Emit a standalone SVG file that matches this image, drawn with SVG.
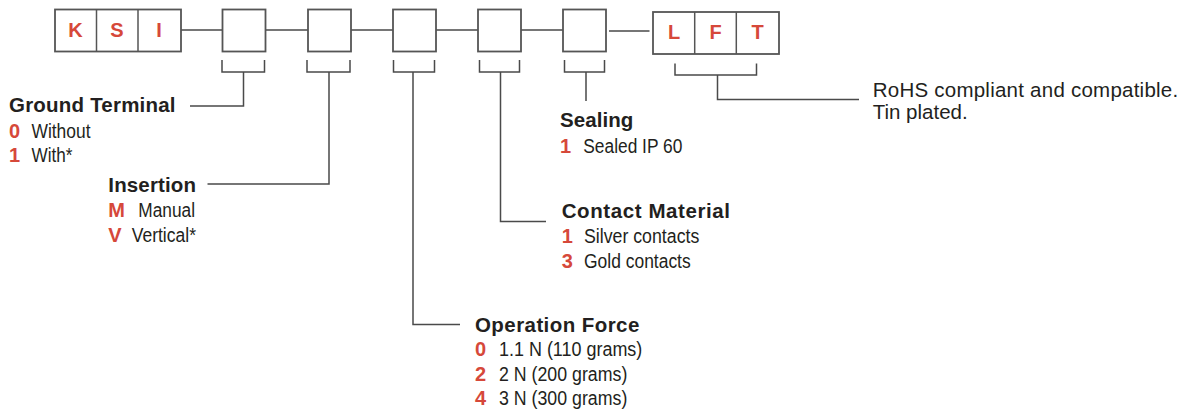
<svg xmlns="http://www.w3.org/2000/svg" width="1198" height="409" viewBox="0 0 1198 409">
<style>
.box{fill:#fff;stroke:#555;stroke-width:1.8}
.div{stroke:#555;stroke-width:1.5}
.con{fill:none;stroke:#4a4a4a;stroke-width:1.5}
.code{font-family:"Liberation Sans",Arial,sans-serif;font-weight:bold;font-size:20px;fill:#d6483a;text-anchor:middle}
.h{font-family:"Liberation Sans",Arial,sans-serif;font-weight:bold;font-size:20.5px;fill:#231f20}
.k{font-family:"Liberation Sans",Arial,sans-serif;font-weight:bold;font-size:20px;fill:#d6483a}
.t{font-family:"Liberation Sans",Arial,sans-serif;font-size:20px;fill:#231f20}
.r{font-family:"Liberation Sans",Arial,sans-serif;font-size:20.5px;fill:#231f20}
</style>
<rect width="1198" height="409" fill="#fff"/>
<g id="connectors">
<path class="con" d="M181,30H222.5M265.5,30H308M351,30H393M436,30H478M521,30H563M609,31H649.5"/>
<path class="con" d="M222,60V72H264.5V60M243.5,72V106H190"/>
<path class="con" d="M307,60V72H350V60M329,72V184H207.5"/>
<path class="con" d="M393.5,60V72H434.5V60M413,72V324.5H460"/>
<path class="con" d="M479.5,60V72H519.5V60M500.5,72V221.5H546"/>
<path class="con" d="M564.5,60V72H604.5V60M586,72V101"/>
<path class="con" d="M675,63.5V75H756.5V63.5M717.5,75V99.5H859"/>
</g>
<g id="ksi">
<rect class="box" x="55" y="9.5" width="126" height="42"/>
<line class="div" x1="96.5" y1="9.5" x2="96.5" y2="51.5"/>
<line class="div" x1="138" y1="9.5" x2="138" y2="51.5"/>
<text class="code" x="75.5" y="37">K</text>
<text class="code" x="117" y="37">S</text>
<text class="code" x="159" y="37">I</text>
</g>
<g id="box1"><rect class="box" x="222.5" y="9.5" width="43" height="42"/></g>
<g id="box2"><rect class="box" x="308" y="9.5" width="43" height="42"/></g>
<g id="box3"><rect class="box" x="393" y="9.5" width="43" height="42"/></g>
<g id="box4"><rect class="box" x="478" y="9.5" width="43" height="42"/></g>
<g id="box5"><rect class="box" x="563" y="9.5" width="43" height="42"/></g>
<g id="lft">
<rect class="box" x="653" y="12" width="126" height="42"/>
<line class="div" x1="694.7" y1="12" x2="694.7" y2="54"/>
<line class="div" x1="736.3" y1="12" x2="736.3" y2="54"/>
<text class="code" x="674" y="39">L</text>
<text class="code" x="715.5" y="39">F</text>
<text class="code" x="757.7" y="39">T</text>
</g>
<g id="ground-terminal">
<text class="h" x="9" y="112" textLength="166.5">Ground Terminal</text>
<text class="k" x="9" y="137.5">0</text>
<text class="t" x="31.5" y="137.5" textLength="59" lengthAdjust="spacingAndGlyphs">Without</text>
<text class="k" x="9" y="162">1</text>
<text class="t" x="31.5" y="162" textLength="41" lengthAdjust="spacingAndGlyphs">With*</text>
</g>
<g id="insertion">
<text class="h" x="108.3" y="192.3" textLength="87.7">Insertion</text>
<text class="k" x="108.3" y="216.8">M</text>
<text class="t" x="138.3" y="216.8" textLength="56.7" lengthAdjust="spacingAndGlyphs">Manual</text>
<text class="k" x="108.3" y="241.5">V</text>
<text class="t" x="131.7" y="241.5" textLength="64.3" lengthAdjust="spacingAndGlyphs">Vertical*</text>
</g>
<g id="sealing">
<text class="h" x="560" y="127.3" textLength="73.3">Sealing</text>
<text class="k" x="560" y="153.3">1</text>
<text class="t" x="583.3" y="153.3" textLength="99" lengthAdjust="spacingAndGlyphs">Sealed IP 60</text>
</g>
<g id="contact-material">
<text class="h" x="561.7" y="218.3" textLength="168.3">Contact Material</text>
<text class="k" x="561.7" y="243.3">1</text>
<text class="t" x="584" y="243.3" textLength="115.3" lengthAdjust="spacingAndGlyphs">Silver contacts</text>
<text class="k" x="561.7" y="268.3">3</text>
<text class="t" x="584" y="268.3" textLength="106.7" lengthAdjust="spacingAndGlyphs">Gold contacts</text>
</g>
<g id="operation-force">
<text class="h" x="475" y="331.7" textLength="164.3">Operation Force</text>
<text class="k" x="475" y="356">0</text>
<text class="t" x="499" y="356" textLength="143.3" lengthAdjust="spacingAndGlyphs">1.1 N (110 grams)</text>
<text class="k" x="475" y="380.5">2</text>
<text class="t" x="499" y="380.5" textLength="128.3" lengthAdjust="spacingAndGlyphs">2 N (200 grams)</text>
<text class="k" x="475" y="405">4</text>
<text class="t" x="499" y="405" textLength="128.3" lengthAdjust="spacingAndGlyphs">3 N (300 grams)</text>
</g>
<g id="finish">
<text class="r" x="872.7" y="96.5" textLength="305.5">RoHS compliant and compatible.</text>
<text class="r" x="872.7" y="118.5">Tin plated.</text>
</g>
</svg>
